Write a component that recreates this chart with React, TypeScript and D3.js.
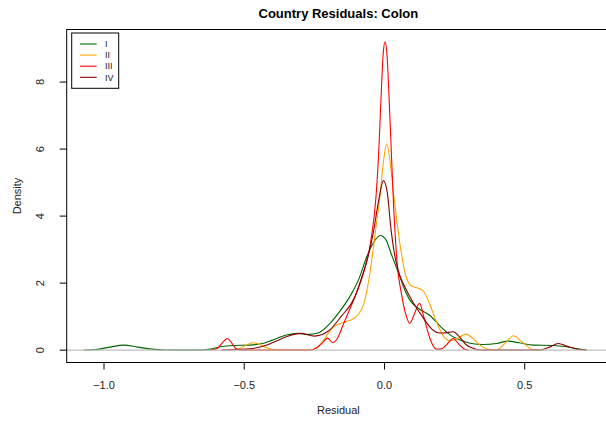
import React from 'react';
import * as d3 from 'd3';

const seriesNames = ['I', 'II', 'III', 'IV'];
const seriesColors = ['#006400', '#FFA500', '#FF0000', '#8B0000'];
const xTicks = [-1.0, -0.5, 0.0, 0.5];
const yTicks = [0, 2, 4, 6, 8];

const densityI: [number, number][] = [
  [-1.07, 0], [-1.03, 0.02], [-0.98, 0.09], [-0.93, 0.15], [-0.88, 0.09], [-0.83, 0.03], [-0.78, 0.005],
  [-0.72, 0], [-0.66, 0], [-0.62, 0.03], [-0.585, 0.1], [-0.54, 0.14], [-0.48, 0.15], [-0.435, 0.2],
  [-0.40, 0.3], [-0.35, 0.45], [-0.31, 0.5], [-0.27, 0.47], [-0.235, 0.52], [-0.20, 0.75], [-0.16, 1.15],
  [-0.12, 1.65], [-0.09, 2.15], [-0.065, 2.75], [-0.04, 3.2], [-0.015, 3.42], [0.005, 3.3], [0.025, 2.85],
  [0.05, 2.3], [0.07, 1.85], [0.09, 1.5], [0.12, 1.25], [0.16, 1.05], [0.2, 0.7], [0.235, 0.45],
  [0.27, 0.3], [0.31, 0.2], [0.35, 0.17], [0.40, 0.2], [0.44, 0.27], [0.48, 0.22], [0.53, 0.15],
  [0.6, 0.14], [0.65, 0.1], [0.69, 0.04], [0.72, 0],
];

const densityII: [number, number][] = [
  [-0.56, 0], [-0.52, 0.04], [-0.495, 0.14], [-0.47, 0.22], [-0.445, 0.17], [-0.42, 0.07], [-0.39, 0.01],
  [-0.36, 0], [-0.27, 0], [-0.245, 0.05], [-0.225, 0.2], [-0.205, 0.45], [-0.18, 0.7], [-0.15, 0.82],
  [-0.12, 0.9], [-0.095, 1.05], [-0.075, 1.35], [-0.06, 1.9], [-0.045, 2.7], [-0.03, 3.7], [-0.016, 4.6],
  [-0.004, 5.6], [0.008, 6.15], [0.019, 5.7], [0.032, 4.7], [0.045, 3.8], [0.06, 2.9], [0.075, 2.25],
  [0.095, 1.92], [0.12, 1.85], [0.14, 1.75], [0.16, 1.4], [0.185, 0.85], [0.21, 0.42], [0.235, 0.28],
  [0.26, 0.35], [0.29, 0.48], [0.315, 0.35], [0.34, 0.15], [0.37, 0.02], [0.39, 0], [0.41, 0.05],
  [0.435, 0.25], [0.46, 0.43], [0.49, 0.25], [0.525, 0.03], [0.55, 0],
];

const densityIII: [number, number][] = [
  [-0.62, 0], [-0.595, 0.06], [-0.575, 0.25], [-0.56, 0.35], [-0.545, 0.22], [-0.53, 0.05], [-0.51, 0],
  [-0.27, 0], [-0.24, 0.08], [-0.218, 0.25], [-0.203, 0.36], [-0.185, 0.23], [-0.168, 0.35], [-0.15, 0.7],
  [-0.13, 1.1], [-0.105, 1.6], [-0.075, 2.3], [-0.05, 3.2], [-0.03, 4.6], [-0.02, 6.0], [-0.012, 7.6],
  [-0.005, 8.8], [0.002, 9.2], [0.009, 8.8], [0.016, 7.6], [0.024, 6.0], [0.032, 4.4], [0.045, 2.6],
  [0.06, 1.7], [0.075, 1.1], [0.09, 0.8], [0.105, 1.05], [0.125, 1.4], [0.14, 1.0], [0.162, 0.35],
  [0.185, 0.03], [0.2, 0.03], [0.22, 0.15], [0.245, 0.35], [0.265, 0.18], [0.285, 0.03], [0.3, 0],
];

const densityIV: [number, number][] = [
  [-0.58, 0], [-0.53, 0.02], [-0.48, 0.04], [-0.44, 0.1], [-0.40, 0.22], [-0.35, 0.4], [-0.30, 0.5],
  [-0.25, 0.42], [-0.20, 0.57], [-0.155, 1.0], [-0.105, 1.6], [-0.08, 2.2], [-0.06, 2.75], [-0.04, 3.5],
  [-0.02, 4.5], [-0.004, 5.06], [0.01, 4.7], [0.022, 3.7], [0.035, 2.9], [0.05, 2.35], [0.075, 1.85],
  [0.1, 1.45], [0.135, 1.0], [0.17, 0.62], [0.19, 0.52], [0.21, 0.51], [0.245, 0.55], [0.265, 0.42],
  [0.29, 0.17], [0.32, 0.04], [0.35, 0], [0.55, 0], [0.585, 0.08], [0.62, 0.2], [0.65, 0.12],
  [0.68, 0.04], [0.72, 0],
];

const allSeries = [densityI, densityII, densityIII, densityIV];

const W = 606;
const H = 421;
const left = 66.7;
const right = 610;
const top = 29.5;
const bottom = 362.5;

export default function App() {
  const x = d3.scaleLinear().domain([-1.133, 0.804]).range([left, right]);
  const y = d3.scaleLinear().domain([-0.368, 9.568]).range([bottom, top]);
  const line = d3
    .line<[number, number]>()
    .x((d) => x(d[0]))
    .y((d) => y(d[1]))
    .curve(d3.curveMonotoneX);

  const font = '"Liberation Sans", Arial, Helvetica, sans-serif';

  return (
    <svg
      width={W}
      height={H}
      style={{ position: 'absolute', left: 0, top: 0, background: '#fff' }}
      fontFamily={font}
    >
      <rect x={0} y={0} width={W} height={H} fill="#fff" />
      <defs>
        <clipPath id="plotclip">
          <rect x={left} y={top} width={right - left} height={bottom - top} />
        </clipPath>
      </defs>
      <g clipPath="url(#plotclip)">
        {allSeries.map((s, i) => (
          <path key={i} d={line(s) || ''} fill="none" stroke={seriesColors[i]} strokeWidth={1.1} />
        ))}
        <line x1={left} x2={right} y1={y(0)} y2={y(0)} stroke="#BEBEBE" strokeWidth={1.1} />
      </g>
      <rect x={left} y={top} width={right - left} height={bottom - top} fill="none" stroke="#000" strokeWidth={1} />
      {/* x axis */}
      <line x1={x(xTicks[0])} x2={x(xTicks[xTicks.length - 1])} y1={bottom} y2={bottom} stroke="#000" />
      {xTicks.map((t) => (
        <g key={t}>
          <line x1={x(t)} x2={x(t)} y1={bottom} y2={bottom + 7} stroke="#000" />
          <text x={x(t)} y={389} textAnchor="middle" fontSize={11} fill="#222">
            {t === 0 ? '0.0' : (t < 0 ? '\u2212' : '') + Math.abs(t).toFixed(1)}
          </text>
        </g>
      ))}
      {/* y axis */}
      {yTicks.map((t) => (
        <g key={t}>
          <line x1={left - 7} x2={left} y1={y(t)} y2={y(t)} stroke="#000" />
          <text
            transform={`translate(44,${y(t)}) rotate(-90)`}
            textAnchor="middle"
            fontSize={11}
            fill="#222"
          >
            {t}
          </text>
        </g>
      ))}
      <text x={(left + right) / 2} y={414} textAnchor="middle" fontSize={11} fill="#222">
        Residual
      </text>
      <text transform={`translate(21,${(top + bottom) / 2}) rotate(-90)`} textAnchor="middle" fontSize={11} fill="#222">
        Density
      </text>
      <text x={(left + right) / 2} y={17.5} textAnchor="middle" fontSize={13} fontWeight="bold" fill="#000">
        Country Residuals: Colon
      </text>
      {/* legend */}
      <rect x={71.7} y={33} width={47} height={55.3} fill="#fff" stroke="#000" strokeWidth={1} />
      {seriesNames.map((n, i) => (
        <g key={n}>
          <line x1={80} x2={96.7} y1={44 + i * 11.1} y2={44 + i * 11.1} stroke={seriesColors[i]} strokeWidth={1.1} />
          <text x={105} y={44 + i * 11.1 + 3.2} fontSize={9} fill="#222">
            {n}
          </text>
        </g>
      ))}
    </svg>
  );
}
